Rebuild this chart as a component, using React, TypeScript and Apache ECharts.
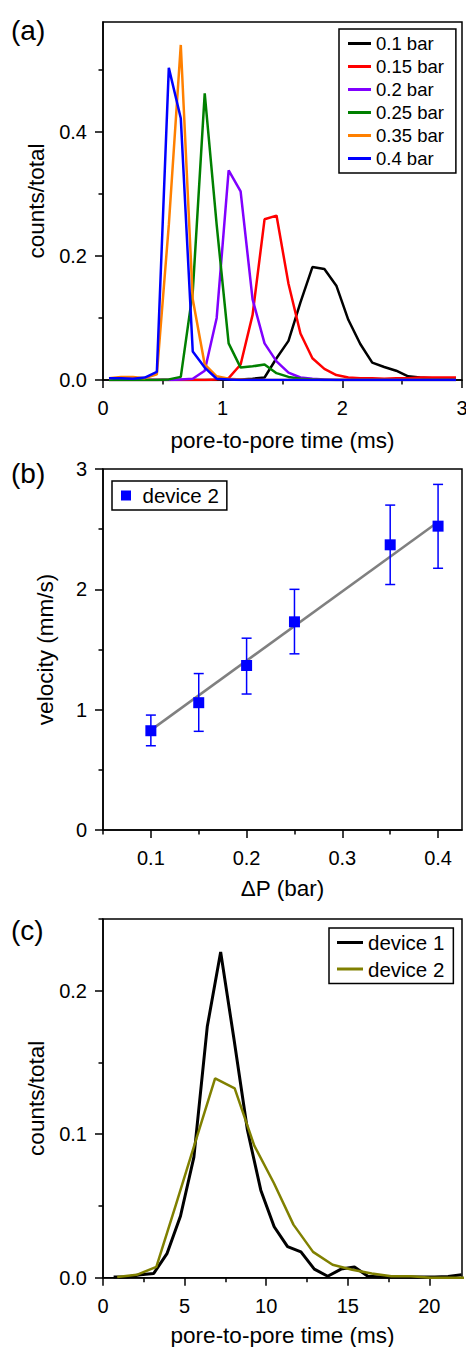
import React, { useEffect, useRef } from "react";
import * as echarts from "echarts";

// ---------- Panel (a): pore-to-pore time distributions ----------
const timeA = [0.05, 0.15, 0.25, 0.35, 0.45, 0.55, 0.65, 0.75, 0.85, 0.95, 1.05, 1.15, 1.25, 1.35, 1.45, 1.55, 1.65, 1.75, 1.85, 1.95, 2.05, 2.15, 2.25, 2.35, 2.45, 2.55, 2.65, 2.75, 2.85, 2.95];
const bar010 = [0, 0, 0, 0, 0, 0, 0, 0, 0, 0, 0.001, 0.001, 0.002, 0.004, 0.035, 0.063, 0.125, 0.182, 0.179, 0.152, 0.097, 0.058, 0.028, 0.021, 0.015, 0.006, 0.004, 0.003, 0.003, 0.002];
const bar015 = [0, 0, 0, 0, 0, 0, 0, 0, 0, 0.001, 0.003, 0.025, 0.105, 0.259, 0.265, 0.155, 0.075, 0.035, 0.018, 0.008, 0.004, 0.003, 0.003, 0.002, 0.003, 0.003, 0.004, 0.004, 0.004, 0.004];
const bar020 = [0, 0, 0, 0, 0, 0, 0.001, 0.002, 0.015, 0.1, 0.338, 0.304, 0.13, 0.059, 0.03, 0.012, 0.004, 0.002, 0.001, 0, 0, 0, 0, 0, 0, 0, 0, 0, 0, 0];
const bar025 = [0, 0, 0, 0, 0, 0.001, 0.005, 0.142, 0.462, 0.25, 0.059, 0.02, 0.022, 0.025, 0.011, 0.005, 0.002, 0.001, 0, 0, 0, 0, 0, 0, 0, 0, 0, 0, 0, 0];
const bar035 = [0.003, 0.005, 0.005, 0.003, 0.009, 0.25, 0.54, 0.13, 0.025, 0.006, 0.002, 0.001, 0, 0, 0, 0, 0, 0, 0, 0, 0, 0, 0, 0, 0, 0, 0, 0, 0, 0];
const bar040 = [0.003, 0.003, 0.002, 0.004, 0.013, 0.503, 0.422, 0.046, 0.02, 0.002, 0.001, 0, 0, 0, 0, 0, 0, 0, 0, 0, 0, 0, 0, 0, 0, 0, 0, 0, 0, 0];
const namesA = ["0.1 bar", "0.15 bar", "0.2 bar", "0.25 bar", "0.35 bar", "0.4 bar"];
const valuesA = [bar010, bar015, bar020, bar025, bar035, bar040];
const colorsA = ["#000000", "#ff0000", "#8000ff", "#008000", "#ff8000", "#0000ff"];
const xTicksA = [0, 1, 2, 3];
const xMinorA = [0.5, 1.5, 2.5];
const yTicksA = [0, 0.2, 0.4];
const yMinorA = [0.1, 0.3, 0.5];

// ---------- Panel (b): velocity vs pressure ----------
const pressure = [0.1, 0.15, 0.2, 0.25, 0.35, 0.4];
const velocity = [0.825, 1.058, 1.367, 1.73, 2.37, 2.525];
const velLow = [0.7, 0.82, 1.13, 1.464, 2.04, 2.175];
const velHigh = [0.955, 1.3, 1.594, 2.0, 2.7, 2.872];
const fitP = [0.1, 0.4];
const fitV = [0.83, 2.56];
const xTicksB = [0.1, 0.2, 0.3, 0.4];
const xMinorB = [0.05, 0.15, 0.25, 0.35];
const yTicksB = [0, 1, 2, 3];
const yMinorB = [0.5, 1.5, 2.5];

// ---------- Panel (c): device comparison ----------
const timeD1 = [0.65, 1.47, 2.29, 3.11, 3.93, 4.75, 5.57, 6.39, 7.21, 8.03, 8.85, 9.67, 10.49, 11.31, 12.13, 12.95, 13.77, 14.59, 15.41, 16.23, 17.05, 17.87, 18.69, 19.51, 20.33, 21.15, 21.97];
const device1 = [0.0005, 0.0005, 0.002, 0.003, 0.017, 0.043, 0.084, 0.175, 0.227, 0.166, 0.103, 0.061, 0.0355, 0.0216, 0.018, 0.006, 0.001, 0.006, 0.0075, 0.001, 0.0005, 0.0005, 0.0005, 0.0005, 0.0005, 0.0008, 0.002];
const timeD2 = [0.87, 2.07, 3.27, 4.47, 5.67, 6.87, 8.07, 9.27, 10.47, 11.67, 12.87, 14.07, 15.27, 16.47, 17.67, 18.87, 20.07, 21.27, 22.47];
const device2 = [0.0005, 0.002, 0.0075, 0.051, 0.095, 0.139, 0.132, 0.092, 0.066, 0.037, 0.018, 0.009, 0.0055, 0.003, 0.001, 0.001, 0, 0, 0];
const xTicksC = [0, 5, 10, 15, 20];
const xMinorC = [2.5, 7.5, 12.5, 17.5];
const yTicksC = [0, 0.1, 0.2];
const yMinorC = [0.05, 0.15, 0.25];

const FONT = '"Liberation Sans", Arial, Helvetica, sans-serif';
const BLACK = "#000000";
const AXIS_W = 1.5;

function majorAxis(
  dim: "x" | "y",
  min: number,
  max: number,
  ticks: number[],
  fmt: (v: number) => string,
  name: string,
  nameGap: number
) {
  return {
    type: "value",
    min,
    max,
    position: dim === "x" ? "bottom" : "left",
    name,
    nameLocation: "middle",
    nameGap,
    nameTextStyle: { fontSize: 22.5, color: BLACK, fontFamily: FONT },
    axisLine: { show: true, onZero: false, lineStyle: { color: BLACK, width: AXIS_W } },
    axisTick: { show: true, inside: false, length: 8, customValues: ticks, lineStyle: { color: BLACK, width: AXIS_W } },
    axisLabel: {
      show: true,
      customValues: ticks,
      formatter: (v: number) => fmt(v),
      margin: dim === "x" ? 18 : 16,
      fontSize: 20,
      color: BLACK,
      fontFamily: FONT,
      hideOverlap: false,
    },
    splitLine: { show: false },
  };
}

function minorAxis(dim: "x" | "y", min: number, max: number, ticks: number[]) {
  return {
    type: "value",
    min,
    max,
    position: dim === "x" ? "bottom" : "left",
    axisLine: { show: false, onZero: false },
    axisTick: { show: true, inside: false, length: 4.5, customValues: ticks, lineStyle: { color: BLACK, width: AXIS_W } },
    axisLabel: { show: false },
    splitLine: { show: false },
  };
}

function gridBox(top: number, height: number) {
  return {
    left: 103,
    top,
    width: 359,
    height,
    show: true,
    borderColor: BLACK,
    borderWidth: AXIS_W,
    backgroundColor: "transparent",
    containLabel: false,
    outerBoundsMode: "none",
  };
}

function panelLabel(text: string, top: number) {
  return {
    type: "text",
    left: 11,
    top,
    style: { text, fontSize: 28, fill: BLACK, fontFamily: FONT },
  };
}

function optionA() {
  return {
    animation: false,
    grid: gridBox(22, 358),
    xAxis: [
      majorAxis("x", 0, 3, xTicksA, (v) => String(v), "pore-to-pore time (ms)", 49),
      minorAxis("x", 0, 3, xMinorA),
    ],
    yAxis: [
      majorAxis("y", 0, 0.577, yTicksA, (v) => v.toFixed(1), "counts/total", 53),
      minorAxis("y", 0, 0.577, yMinorA),
    ],
    legend: {
      data: namesA,
      orient: "vertical",
      left: 339,
      top: 29,
      padding: [5, 12, 5, 9],
      itemWidth: 23,
      itemHeight: 3,
      icon: "rect",
      itemGap: 4,
      borderColor: BLACK,
      borderWidth: 1.5,
      selectedMode: false,
      textStyle: { fontSize: 18.5, color: BLACK, fontFamily: FONT },
    },
    graphic: [panelLabel("(a)", 16)],
    series: valuesA.map((vals, i) => ({
      type: "line",
      name: namesA[i],
      xAxisIndex: 0,
      yAxisIndex: 0,
      data: timeA.map((t, j) => [t, vals[j]]),
      symbol: "none",
      clip: true,
      color: colorsA[i],
      lineStyle: { color: colorsA[i], width: 2.5 },
    })),
  };
}

function optionB() {
  return {
    animation: false,
    grid: gridBox(14, 361),
    xAxis: [
      majorAxis("x", 0.05, 0.425, xTicksB, (v) => String(v), "\u0394P (bar)", 47),
      minorAxis("x", 0.05, 0.425, xMinorB),
    ],
    yAxis: [
      majorAxis("y", 0, 3, yTicksB, (v) => String(v), "velocity (mm/s)", 46),
      minorAxis("y", 0, 3, yMinorB),
    ],
    legend: {
      data: ["device 2"],
      orient: "vertical",
      left: 112,
      top: 26,
      padding: [4, 8, 4, 9],
      itemWidth: 23,
      itemHeight: 10,
      icon: "path://M0 0H10V10H0Z",
      borderColor: BLACK,
      borderWidth: 1.5,
      selectedMode: false,
      textStyle: { fontSize: 20.5, color: BLACK, fontFamily: FONT },
    },
    graphic: [panelLabel("(b)", 4)],
    series: [
      {
        type: "line",
        name: "fit",
        data: fitP.map((p, i) => [p, fitV[i]]),
        symbol: "none",
        color: "#808080",
        lineStyle: { color: "#808080", width: 2.5 },
        z: 1,
      },
      {
        type: "custom",
        name: "error",
        data: pressure.map((p, i) => [p, velLow[i], velHigh[i]]),
        encode: { x: 0, y: [1, 2] },
        renderItem: (_params: any, api: any) => {
          const x = api.value(0);
          const lo = api.coord([x, api.value(1)]);
          const hi = api.coord([x, api.value(2)]);
          const hw = 5;
          const style = { stroke: "#0000ff", lineWidth: 1.5 };
          return {
            type: "group",
            children: [
              { type: "line", shape: { x1: lo[0], y1: lo[1], x2: hi[0], y2: hi[1] }, style },
              { type: "line", shape: { x1: lo[0] - hw, y1: lo[1], x2: lo[0] + hw, y2: lo[1] }, style },
              { type: "line", shape: { x1: hi[0] - hw, y1: hi[1], x2: hi[0] + hw, y2: hi[1] }, style },
            ],
          };
        },
        z: 2,
      },
      {
        type: "scatter",
        name: "device 2",
        data: pressure.map((p, i) => [p, velocity[i]]),
        symbol: "rect",
        symbolSize: 11,
        color: "#0000ff",
        itemStyle: { color: "#0000ff", opacity: 1 },
        z: 3,
      },
    ],
  };
}

function optionC() {
  return {
    animation: false,
    grid: gridBox(9, 358.7),
    xAxis: [
      majorAxis("x", 0, 22, xTicksC, (v) => String(v), "pore-to-pore time (ms)", 46),
      minorAxis("x", 0, 22, xMinorC),
    ],
    yAxis: [
      majorAxis("y", 0, 0.25, yTicksC, (v) => v.toFixed(1), "counts/total", 53),
      minorAxis("y", 0, 0.25, yMinorC),
    ],
    legend: {
      data: ["device 1", "device 2"],
      orient: "vertical",
      left: 329,
      top: 18,
      padding: [4, 9, 4, 8],
      itemWidth: 26,
      itemHeight: 3,
      icon: "rect",
      itemGap: 5.5,
      borderColor: BLACK,
      borderWidth: 1.5,
      selectedMode: false,
      textStyle: { fontSize: 20.5, color: BLACK, fontFamily: FONT },
    },
    graphic: [panelLabel("(c)", 6)],
    series: [
      {
        type: "line",
        name: "device 1",
        data: timeD1.map((t, i) => [t, device1[i]]),
        symbol: "none",
        clip: true,
        color: BLACK,
        lineStyle: { color: BLACK, width: 3 },
      },
      {
        type: "line",
        name: "device 2",
        data: timeD2.map((t, i) => [t, device2[i]]),
        symbol: "none",
        clip: true,
        color: "#808000",
        lineStyle: { color: "#808000", width: 2.5 },
      },
    ],
  };
}

export default function App() {
  const refA = useRef<HTMLDivElement>(null);
  const refB = useRef<HTMLDivElement>(null);
  const refC = useRef<HTMLDivElement>(null);

  useEffect(() => {
    const charts: echarts.ECharts[] = [];
    const pairs: [HTMLDivElement | null, any][] = [
      [refA.current, optionA()],
      [refB.current, optionB()],
      [refC.current, optionC()],
    ];
    for (const [el, opt] of pairs) {
      if (!el) continue;
      const c = echarts.init(el, undefined, { renderer: "svg" });
      c.setOption(opt);
      charts.push(c);
    }
    return () => charts.forEach((c) => c.dispose());
  }, []);

  return (
    <div style={{ position: "absolute", left: 0, top: 0, width: 466, height: 1347, background: "#fff", overflow: "hidden" }}>
      <div ref={refA} style={{ position: "absolute", left: 0, top: 0, width: 466, height: 455 }} />
      <div ref={refB} style={{ position: "absolute", left: 0, top: 455, width: 466, height: 455 }} />
      <div ref={refC} style={{ position: "absolute", left: 0, top: 910, width: 466, height: 437 }} />
    </div>
  );
}
